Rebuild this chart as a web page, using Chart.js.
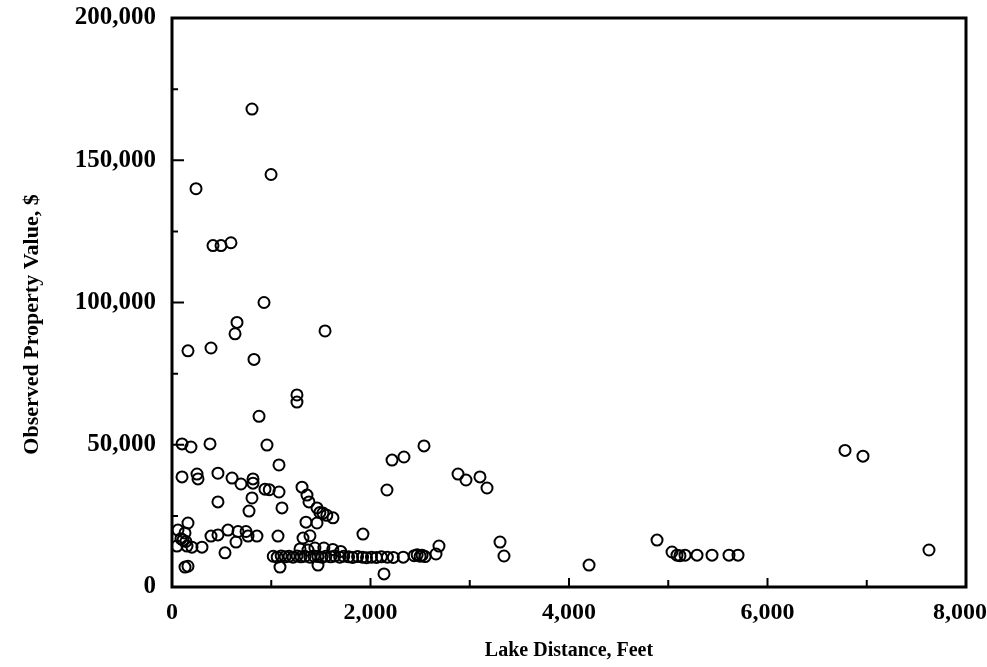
<!DOCTYPE html>
<html>
<head>
<meta charset="utf-8">
<script src="https://cdn.jsdelivr.net/npm/chart.js@4.4.1/dist/chart.umd.min.js"></script>
<style>
    html, body { margin: 0; padding: 0; background: #fff; }
    #wrap { width: 987px; height: 667px; }
</style>
</head>
<body>
<div id="wrap"><canvas id="chart" width="987" height="667"></canvas></div>
<script>
const lakeDistance = [
    806, 242, 998, 413, 494, 594, 927, 655, 635, 1542, 161, 393, 826, 877, 1259, 1259,
    101, 191, 383, 957, 1078, 101, 252, 262, 463, 605, 695, 816, 816, 937, 980, 1078,
    806, 463, 776, 1108, 1310, 1360, 1380, 1461, 1490, 1521, 1560, 1622, 1350, 1461,
    1320, 1390, 1924, 1068,
    60, 161, 131, 111, 50, 151, 201, 302, 90, 140,
    393, 463, 564, 665, 746, 645, 766, 856, 534, 131, 161,
    1020, 1060, 1100, 1140, 1180, 1220, 1260, 1300, 1340, 1390, 1430, 1470, 1510, 1550,
    1600, 1640, 1690, 1730, 1780, 1820, 1870, 1920, 1960, 2010, 2060, 2110, 2170, 2230,
    2330, 2440, 2470, 2500, 2520, 2550,
    1290, 1370, 1440, 1530, 1620, 1700,
    1088, 1471, 2136, 2539, 2217, 2337, 2166, 2882, 2962, 3103, 3174, 3305, 3345, 2690, 2660,
    4202, 4887, 5038, 5088, 5118, 5169, 5290, 5441, 5612, 5703, 6781, 6962, 7627
];
const propertyValue = [
    168000, 140000, 145000, 120000, 120000, 121000, 100000, 93000, 89000, 90000, 83000, 84000, 80000, 60000, 67500, 65000,
    50300, 49200, 50300, 49900, 42900, 38700, 39700, 38000, 40000, 38300, 36200, 38000, 36500, 34400, 34200, 33400,
    31300, 29900, 26700, 27800, 35100, 32300, 29900, 27800, 26200, 26000, 25200, 24300, 22800, 22500,
    17200, 18000, 18600, 17900,
    20000, 22500, 19000, 16500, 14400, 14400, 14000, 14000, 17000, 16000,
    17900, 18300, 20000, 19500, 19500, 15800, 17900, 17900, 12000, 7000, 7300,
    10800, 10500, 10900, 10600, 10800, 10500, 10900, 10600, 10800, 10500, 10900, 10700, 10500, 10800,
    10600, 10900, 10500, 10800, 10600, 10400, 10700, 10500, 10300, 10500, 10400, 10600, 10500, 10400,
    10500, 11000, 11300, 10800, 11200, 10700,
    13400, 13000, 13700, 13700, 13200, 12500,
    7000, 7700, 4600, 49600, 44600, 45700, 34100, 39700, 37600, 38700, 34800, 15800, 10900, 14400, 11600,
    7700, 16500, 12300, 11200, 11000, 11200, 11200, 11200, 11200, 11200, 48000, 46000, 13000
];
// the trailing en space nudges the last label left so it stays on the page
const xTickLabels = ['0', '2,000', '4,000', '6,000', '8,000\u2002'];
const yTickLabels = ['0', '50,000', '100,000', '150,000', '200,000'];
const xMinorTicks = [1000, 3000, 5000, 7000];
const yMinorTicks = [25000, 75000, 125000, 175000];

const tickFont = { family: '"Liberation Serif"', size: 25, weight: 'bold' };
const titleFont = { family: '"Liberation Serif"', size: 20, weight: 'bold' };

// frame round the plot plus inward tick marks
const framePlugin = {
    id: 'frame',
    afterDraw(chart) {
        const { ctx, chartArea: a, scales } = chart;
        ctx.save();
        ctx.strokeStyle = '#000';
        ctx.lineWidth = 3;
        ctx.strokeRect(a.left, a.top, a.right - a.left, a.bottom - a.top);
        ctx.lineWidth = 2;
        ctx.beginPath();
        [0, 2000, 4000, 6000, 8000].forEach(v => {
            const p = scales.x.getPixelForValue(v);
            ctx.moveTo(p, a.bottom); ctx.lineTo(p, a.bottom - 9);
        });
        xMinorTicks.forEach(v => {
            const p = scales.x.getPixelForValue(v);
            ctx.moveTo(p, a.bottom); ctx.lineTo(p, a.bottom - 7);
        });
        [0, 50000, 100000, 150000, 200000].forEach(v => {
            const p = scales.y.getPixelForValue(v);
            ctx.moveTo(a.left, p); ctx.lineTo(a.left + 12, p);
        });
        yMinorTicks.forEach(v => {
            const p = scales.y.getPixelForValue(v);
            ctx.moveTo(a.left, p); ctx.lineTo(a.left + 6, p);
        });
        ctx.stroke();
        ctx.restore();
    }
};

new Chart(document.getElementById('chart'), {
    type: 'scatter',
    data: {
        datasets: [{
            label: 'Property',
            data: lakeDistance.map((x, i) => ({ x: x, y: propertyValue[i] })),
            pointStyle: 'circle',
            pointRadius: 5.5,
            pointBorderWidth: 2,
            borderColor: '#000',
            backgroundColor: 'rgba(0,0,0,0)'
        }]
    },
    options: {
        responsive: false,
        animation: false,
        layout: { padding: { left: 15, top: 18, right: 21, bottom: 0 } },
        plugins: {
            legend: { display: false },
            tooltip: { enabled: false }
        },
        scales: {
            x: {
                type: 'linear',
                min: 0,
                max: 8000,
                grid: { display: false },
                border: { display: false },
                afterFit(s) { s.height = 80; s.paddingLeft = 0; s.paddingRight = 0; },
                ticks: {
                    stepSize: 2000,
                    padding: 3,
                    color: '#000',
                    font: { family: '"Liberation Serif"', size: 24, weight: 'bold' },
                    callback: (v) => xTickLabels[v / 2000]
                },
                title: {
                    display: true,
                    text: 'Lake Distance, Feet',
                    color: '#000',
                    font: titleFont,
                    padding: { top: 14 }
                }
            },
            y: {
                min: 0,
                max: 200000,
                grid: { display: false },
                border: { display: false },
                afterFit(s) { s.width = 157; s.paddingTop = 0; s.paddingBottom = 0; },
                ticks: {
                    stepSize: 50000,
                    padding: 8,
                    color: '#000',
                    font: tickFont,
                    callback: (v) => yTickLabels[v / 50000]
                },
                title: {
                    display: true,
                    // trailing spaces push the visible title lower, as in the scan
                    text: 'Observed Property Value, $\u2002\u2002\u2002\u2002',
                    color: '#000',
                    font: { family: '"Liberation Serif"', size: 22, weight: 'bold' },
                    padding: { bottom: 4 }
                }
            }
        }
    },
    plugins: [framePlugin]
});
</script>
</body>
</html>
